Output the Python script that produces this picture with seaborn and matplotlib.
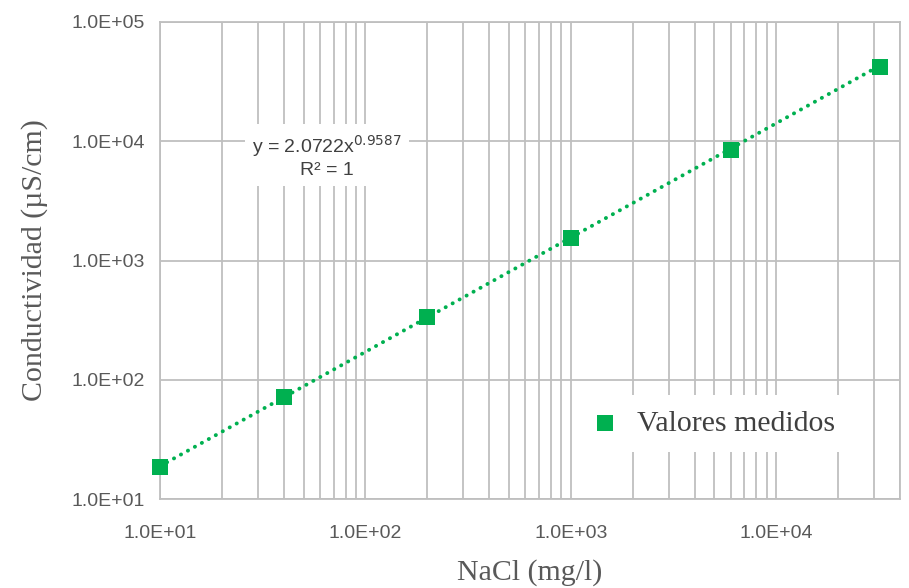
import numpy as np
import pandas as pd
import seaborn as sns
import matplotlib.pyplot as plt
from matplotlib.ticker import LogLocator, FuncFormatter, NullFormatter

# measured values
nacl = [10, 40, 200, 1000, 6000, 32000]          # mg/l
conduct = [18.5, 71.5, 336, 1545, 8450, 42000]  # uS/cm

# power trend line printed on the chart
coef_a = 2.0722
coef_b = 0.9587
r2_label = "R² = 1"

x_ticks = [10, 100, 1000, 10000]
y_ticks = [10, 100, 1000, 10000, 100000]

green = "#00B050"
grid_c = "#BFBFBF"
tick_c = "#595959"
label_c = "#595959"

sns.set_theme(style="white")
plt.rcParams['font.family'] = ['Liberation Sans', 'DejaVu Sans']

df = pd.DataFrame({"nacl": nacl, "conduct": conduct})
x_fit = np.array([nacl[0], nacl[-1]], dtype=float)
fit = pd.DataFrame({"nacl": x_fit, "conduct": coef_a * x_fit ** coef_b})

fig, ax = plt.subplots(figsize=(9.09, 5.88), dpi=100)
fig.subplots_adjust(left=160 / 909, right=900 / 909, top=1 - 22 / 588, bottom=1 - 499 / 588)

ax.set_xscale("log")
ax.set_yscale("log")
ax.set_xlim(10, 40000)
ax.set_ylim(10, 100000)

sns.lineplot(data=fit, x="nacl", y="conduct", ax=ax, color=green, lw=2.8,
             linestyle=(0, (0.05, 2.0)), dash_capstyle="round", zorder=3, legend=False)
sns.scatterplot(data=df, x="nacl", y="conduct", ax=ax, marker="s", s=135, color=green,
                edgecolor=green, linewidth=0, zorder=4, label="Valores medidos", clip_on=False)

ax.xaxis.set_major_locator(LogLocator(base=10, numticks=10))
ax.xaxis.set_minor_locator(LogLocator(base=10, subs=np.arange(2, 10), numticks=20))
ax.xaxis.set_minor_formatter(NullFormatter())
ax.set_xticks(x_ticks)
ax.set_yticks(y_ticks)
ax.yaxis.set_minor_locator(LogLocator(base=10, subs=[], numticks=10))
fmt = FuncFormatter(lambda v, p: f"{v:.1E}")
ax.xaxis.set_major_formatter(fmt)
ax.yaxis.set_major_formatter(fmt)

ax.grid(True, which="major", axis="both", color=grid_c, lw=1.3)
ax.grid(True, which="minor", axis="x", color=grid_c, lw=1.3)
ax.set_axisbelow(True)
for s in ax.spines.values():
    s.set_color(grid_c)
    s.set_linewidth(1.3)

ax.tick_params(axis="both", which="major", direction="out", length=5, width=1.3,
               color=grid_c, labelcolor=tick_c, labelsize=14)
ax.tick_params(axis="x", which="major", pad=14)
ax.tick_params(axis="y", which="major", pad=6)
ax.tick_params(axis="both", which="minor", length=0)

ax.set_xlabel("NaCl (mg/l)", family="Liberation Serif", fontsize=21.5, color=label_c, labelpad=12)
ax.set_ylabel("Conductividad (µS/cm)", family="Liberation Serif", fontsize=21.5, color=label_c, labelpad=17)

ax.text(0.2257, 0.719, f"y = {coef_a}x$^{{{coef_b}}}$\n{r2_label}", transform=ax.transAxes,
        ha="center", va="center", fontsize=14, color="#404040", linespacing=1.3,
        bbox=dict(boxstyle="square,pad=0.35", fc="white", ec="none"), zorder=5)

leg = ax.legend(loc="lower right", bbox_to_anchor=(0.932, 0.0985), borderaxespad=0,
                frameon=True, fancybox=False,
                prop={"family": "Liberation Serif", "size": 21.5}, handletextpad=0.85,
                borderpad=0.5, markerscale=1.0, handlelength=0.4)
leg.get_frame().set_edgecolor("none")
leg.get_frame().set_facecolor("white")
leg.get_frame().set_alpha(1)
for t in leg.get_texts():
    t.set_color("#404040")

fig.savefig("out.png", dpi=100)
